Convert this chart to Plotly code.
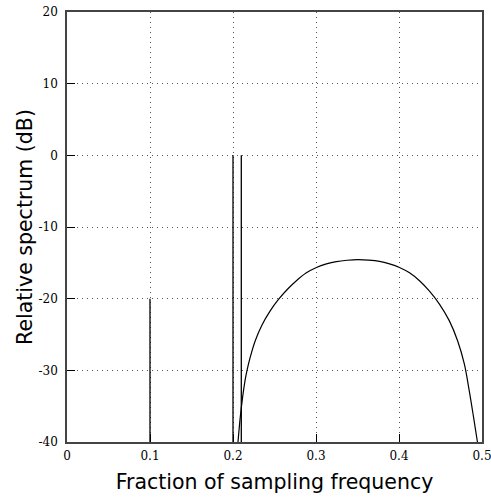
import plotly.graph_objects as go

# Spectral lines (frequency as fraction of sampling frequency, level in dB)
spike_freqs = [0.1, 0.2, 0.21]
spike_levels = [-20, 0, 0]

# Broadband component
curve_freqs = [0.206, 0.2087, 0.2115, 0.2147, 0.2167, 0.2207, 0.2267, 0.2348,
               0.2448, 0.2548, 0.2668, 0.2764, 0.2884, 0.3005, 0.3125, 0.3245,
               0.3375, 0.3505, 0.3635, 0.3766, 0.3886, 0.4006, 0.4127, 0.4247,
               0.4367, 0.4487, 0.4607, 0.4707, 0.4787, 0.4847, 0.4899, 0.4945]
curve_levels = [-40, -36.6, -33.8, -31.3, -30.1, -28.2, -25.9, -23.7,
                -21.7, -20.1, -18.55, -17.5, -16.4, -15.65, -15.15, -14.82,
                -14.64, -14.55, -14.62, -14.8, -15.15, -15.65, -16.4, -17.5,
                -18.95, -20.75, -23.1, -25.9, -29.1, -32.9, -36.6, -40]

floor_db = -40
x_ticks = [0, 0.1, 0.2, 0.3, 0.4, 0.5]
x_tick_labels = ["0", "0.1", "0.2", "0.3", "0.4", "0.5"]
y_ticks = [-40, -30, -20, -10, 0, 10, 20]
y_tick_labels = ["-40", "-30", "-20", "-10", "0", "10", "20"]

sx, sy = [], []
for f, lv in zip(spike_freqs, spike_levels):
    sx += [f, f, None]
    sy += [floor_db, lv, None]

fig = go.Figure()
fig.add_trace(go.Scatter(x=sx, y=sy, mode="lines",
                         line=dict(color="black", width=1.3),
                         showlegend=False, hoverinfo="skip"))
fig.add_trace(go.Scatter(x=curve_freqs, y=curve_levels, mode="lines",
                         line=dict(color="black", width=1.2, shape="spline", smoothing=1.0),
                         showlegend=False))

tick_font = dict(family="DejaVu Serif", size=12, color="black")
title_font = dict(family="DejaVu Sans", size=20.5, color="black")

fig.update_layout(
    width=491, height=502,
    margin=dict(l=67, r=9, t=12, b=60, autoexpand=False),
    paper_bgcolor="white", plot_bgcolor="white",
    xaxis=dict(range=[0, 0.5], tickvals=x_ticks, ticktext=x_tick_labels,
               ticks="inside", ticklen=8, tickcolor="black", tickwidth=1,
               showline=True, linecolor="#444", linewidth=1.5, mirror=True,
               showgrid=True, gridcolor="#555", gridwidth=1, griddash="1px,4px",
               zeroline=False, tickfont=tick_font, ticklabelstandoff=2,
               ticklabeloverflow="allow",
               title=dict(text="Fraction of sampling frequency", font=title_font, standoff=12)),
    yaxis=dict(range=[-40, 20], tickvals=y_ticks, ticktext=y_tick_labels,
               ticks="inside", ticklen=8, tickcolor="black", tickwidth=1,
               showline=True, linecolor="#444", linewidth=1.5, mirror=True,
               showgrid=True, gridcolor="#555", gridwidth=1, griddash="1px,4px",
               zeroline=False, tickfont=tick_font, ticklabelstandoff=5,
               ticklabeloverflow="allow",
               title=dict(text="Relative spectrum (dB)", font=title_font, standoff=0)),
)

fig.write_html("out.html", config={"displayModeBar": False},
               post_script="document.body.style.margin='0';document.body.style.overflow='hidden';")
